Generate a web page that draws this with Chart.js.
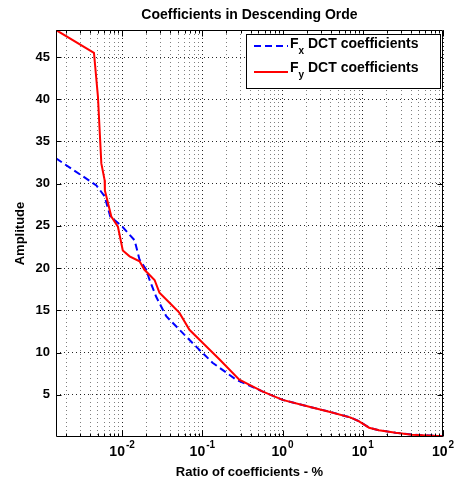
<!DOCTYPE html>
<html><head><meta charset="utf-8">
<script src="https://cdn.jsdelivr.net/npm/chart.js@4/dist/chart.umd.min.js"></script>
<style>html,body{margin:0;padding:0;background:#fff;}#wrap{width:456px;height:487px;}</style>
</head><body><div id="wrap"><canvas id="c" width="456" height="487"></canvas></div>
<script>
// ---- data ----
const chartTitle = 'Coefficients in Descending Orde';
const xAxisTitle = 'Ratio of coefficients - %';
const yAxisTitle = 'Amplitude';

const fxRatio = [0.0015, 0.00478, 0.00606, 0.00713, 0.0101, 0.0143, 0.0165, 0.020, 0.022, 0.0266, 0.0355, 0.0519, 0.0838, 0.134, 0.263, 0.56, 1.0, 2.34, 3.81, 7.1, 9.0, 12.0, 15.9, 25.7, 41, 100];
const fxAmp   = [33.0,   29.8,    28.5,    26.1,    24.9,   23.3,   21.0,   19.8,  18.6,  16.6,   14.3,   12.7,   10.7,   8.8,   6.8,   5.4,  4.4, 3.5,  3.0,  2.3, 1.86, 1.1,  0.8,  0.5,  0.28, 0.1];

const fyRatio = [0.0015, 0.00446, 0.0050, 0.00551, 0.00606, 0.0061, 0.00734, 0.00887, 0.0102, 0.0124, 0.0165, 0.0190, 0.0254, 0.0292, 0.039, 0.0519, 0.0691, 0.100, 0.163, 0.289, 0.56, 1.0, 2.34, 3.81, 7.1, 9.0, 12.0, 15.9, 25.7, 41, 100];
const fyAmp   = [48.2,   45.5,    40.3,   32.4,    30.4,    29.2,   26.1,    24.9,    22.1,   21.4,   20.8,   19.8,   18.6,   17.1,   15.9,  14.7,   12.7,   11.2,  9.2,   6.8,   5.4,  4.4, 3.5,  3.0,  2.3, 1.86, 1.1,  0.8,  0.5,  0.28, 0.1];

const seriesNames = ['x', 'y']; // subscripts of F in the legend
const legendRest = ' DCT coefficients';

const xTickValues = [0.002,0.003,0.004,0.005,0.006,0.007,0.008,0.009,
  0.01,0.02,0.03,0.04,0.05,0.06,0.07,0.08,0.09,
  0.1,0.2,0.3,0.4,0.5,0.6,0.7,0.8,0.9,
  1,2,3,4,5,6,7,8,9,
  10,20,30,40,50,60,70,80,90,100];
const xMajorTicks = [0.01, 0.1, 1, 10, 100];
const xMajorExp = ['-2', '-1', '0', '1', '2'];
const yTickValues = [5,10,15,20,25,30,35,40,45];

const FONT = '"Liberation Sans", Arial, Helvetica, sans-serif';

const decor = {
  id: 'decor',
  afterDraw(chart) {
    const {ctx, chartArea: a, scales: {x, y}} = chart;
    ctx.save();
    const L = Math.round(a.left) + 0.5, R = Math.round(a.right) - 0.5;
    const T = Math.round(a.top) + 0.5, B = Math.round(a.bottom) - 0.5;
    ctx.strokeStyle = '#000';
    ctx.lineWidth = 1;
    ctx.setLineDash([]);
    ctx.beginPath();
    ctx.rect(L, T, R - L, B - T);
    xTickValues.forEach(v => {
      const px = Math.round(x.getPixelForValue(v)) + 0.5;
      const len = xMajorTicks.includes(v) ? 6 : 3;
      ctx.moveTo(px, B); ctx.lineTo(px, B - len);
      ctx.moveTo(px, T); ctx.lineTo(px, T + len);
    });
    yTickValues.forEach(v => {
      const py = Math.round(y.getPixelForValue(v)) + 0.5;
      ctx.moveTo(L, py); ctx.lineTo(L + 5, py);
      ctx.moveTo(R, py); ctx.lineTo(R - 5, py);
    });
    ctx.stroke();

    ctx.fillStyle = '#000';
    ctx.font = 'bold 14px ' + FONT;
    ctx.textAlign = 'center';
    ctx.textBaseline = 'middle';
    ctx.fillText(chartTitle, (a.left + a.right) / 2, 15);

    xMajorTicks.forEach((v, i) => {
      const px = x.getPixelForValue(v);
      ctx.font = 'bold 14px ' + FONT;
      const w1 = ctx.measureText('10').width;
      ctx.font = 'bold 10px ' + FONT;
      const w2 = ctx.measureText(xMajorExp[i]).width;
      const start = px - (w1 + w2 + 1) / 2;
      ctx.textAlign = 'left';
      ctx.font = 'bold 14px ' + FONT;
      ctx.fillText('10', start, 452);
      ctx.font = 'bold 10px ' + FONT;
      ctx.fillText(xMajorExp[i], start + w1 + 1, 445);
    });

    const lx = 246.5, ly = 34.5, lw = 194, lh = 54;
    ctx.fillStyle = '#fff';
    ctx.fillRect(lx, ly, lw, lh);
    ctx.strokeStyle = '#000';
    ctx.strokeRect(lx, ly, lw, lh);
    const entries = [
      {sub: seriesNames[0], color: '#0000ff', dash: [7, 4], ly: 46, ty: 44},
      {sub: seriesNames[1], color: '#ff0000', dash: [], ly: 72, ty: 68}
    ];
    entries.forEach(e => {
      ctx.beginPath();
      ctx.strokeStyle = e.color;
      ctx.lineWidth = 2;
      ctx.setLineDash(e.dash);
      ctx.moveTo(254, e.ly); ctx.lineTo(288, e.ly);
      ctx.stroke();
      ctx.setLineDash([]);
      ctx.fillStyle = '#000';
      ctx.textAlign = 'left';
      ctx.textBaseline = 'middle';
      ctx.font = 'bold 14px ' + FONT;
      ctx.fillText('F', 290, e.ty);
      const fw = ctx.measureText('F').width;
      ctx.font = 'bold 10px ' + FONT;
      ctx.fillText(e.sub, 290 + fw, e.ty + 7);
      const sw = ctx.measureText(e.sub).width;
      ctx.font = 'bold 14px ' + FONT;
      ctx.fillText(legendRest, 290 + fw + sw, e.ty);
    });
    ctx.restore();
  }
};

const xGridColor = c => (c.tick && xMajorTicks.includes(c.tick.value)) ? 'rgba(0,0,0,0.85)' : 'rgba(0,0,0,0.5)';

new Chart(document.getElementById('c'), {
  type: 'line',
  data: {
    datasets: [
      {
        label: 'Fx DCT coefficients',
        data: fxRatio.map((r, i) => ({x: r, y: fxAmp[i]})),
        borderColor: '#0000ff',
        borderWidth: 2,
        borderDash: [7, 4],
        pointRadius: 0,
        tension: 0,
        fill: false,
        order: 1
      },
      {
        label: 'Fy DCT coefficients',
        data: fyRatio.map((r, i) => ({x: r, y: fyAmp[i]})),
        borderColor: '#ff0000',
        borderWidth: 2,
        pointRadius: 0,
        tension: 0,
        fill: false,
        order: 0
      }
    ]
  },
  options: {
    responsive: false,
    animation: false,
    devicePixelRatio: 1,
    layout: {padding: {left: 0, right: 13, top: 30, bottom: 0}},
    plugins: {legend: {display: false}, title: {display: false}, tooltip: {enabled: false}},
    scales: {
      x: {
        type: 'logarithmic',
        min: 0.0015,
        max: 100,
        afterBuildTicks: s => { s.ticks = xTickValues.map(v => ({value: v})); },
        afterFit: s => { s.height = 50; },
        ticks: {display: false},
        grid: {color: xGridColor, lineWidth: 1, drawTicks: false},
        border: {display: false, dash: [1, 3]},
        title: {display: true, text: xAxisTitle, color: '#000', font: {family: FONT, size: 13, weight: 'bold'}, padding: {top: 0, bottom: 7}}
      },
      y: {
        type: 'linear',
        min: 0,
        max: 48.2,
        afterBuildTicks: s => { s.ticks = yTickValues.map(v => ({value: v})); },
        afterFit: s => { s.width = 56; },
        ticks: {color: '#000', font: {family: FONT, size: 13, weight: 'bold'}, padding: 6, autoSkip: false},
        grid: {color: 'rgba(0,0,0,0.85)', lineWidth: 1, drawTicks: false},
        border: {display: false, dash: [1, 3]},
        title: {display: true, text: yAxisTitle, color: '#000', font: {family: FONT, size: 13, weight: 'bold'}, padding: {top: 13, bottom: 0}}
      }
    }
  },
  plugins: [decor]
});
</script>
</body></html>
